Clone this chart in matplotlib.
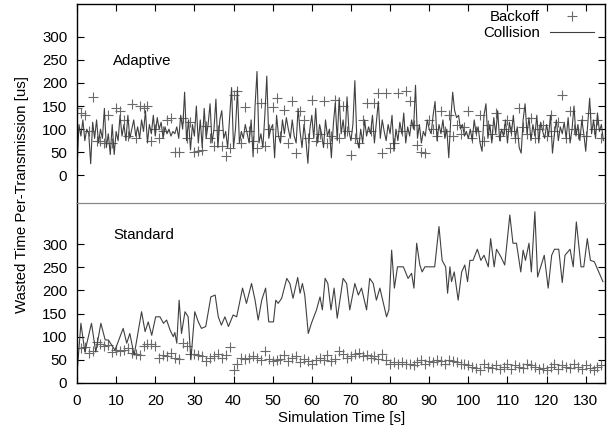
"""
Wasted time per transmission: Adaptive vs Standard (gnuplot-style two-panel chart)
"""
import numpy as np
import matplotlib
matplotlib.use('Agg')
import matplotlib.pyplot as plt

plt.rcParams['font.family'] = ['Liberation Sans', 'DejaVu Sans']
plt.rcParams['font.size'] = 10.8

# ============================================
# DATA
# ============================================
# Adaptive - collision line, sampled every 0.5 s
adp_col_t = np.arange(0, 135, 0.5)
adp_col_v = [
    15, 110, 85, 120, 75, 100, 90, 25, 115, 80,
    120, 70, 100, 80, 145, 60, 90, 45, 110, 45,
    95, 75, 130, 85, 110, 75, 130, 80, 100, 120,
    85, 105, 80, 120, 95, 140, 70, 110, 90, 130,
    85, 125, 100, 115, 80, 105, 90, 100, 85, 95,
    90, 105, 80, 130, 100, 180, 75, 120, 55, 110,
    85, 150, 70, 120, 60, 145, 80, 110, 155, 70,
    100, 165, 60, 120, 140, 80, 95, 60, 125, 190,
    60, 100, 185, 70, 95, 80, 110, 90, 70, 120,
    40, 150, 225, 70, 90, 60, 130, 215, 80, 100,
    110, 38, 130, 85, 70, 120, 90, 125, 100, 80,
    120, 85, 70, 145, 95, 60, 110, 75, 26, 100,
    130, 80, 145, 70, 110, 90, 60, 120, 85, 100,
    38, 110, 157, 75, 168, 90, 120, 80, 170, 95,
    75, 110, 205, 80, 60, 100, 70, 120, 85, 105,
    90, 130, 70, 115, 160, 80, 120, 95, 75, 110,
    90, 130, 52, 100, 75, 115, 90, 135, 70, 105,
    85, 120, 100, 195, 80, 110, 70, 95, 85, 120,
    100, 90, 130, 160, 75, 110, 90, 120, 80, 100,
    38, 120, 180, 140, 125, 130, 100, 110, 85, 95,
    80, 100, 75, 120, 90, 105, 70, 52, 130, 155,
    80, 110, 70, 125, 90, 140, 75, 100, 85, 120,
    70, 115, 90, 130, 80, 105, 60, 48, 120, 155,
    90, 125, 75, 110, 85, 130, 70, 115, 95, 80,
    110, 85, 130, 48, 90, 120, 75, 105, 90, 115,
    80, 125, 70, 100, 150, 85, 110, 75, 120, 90,
    52, 110, 167, 90, 120, 80, 135, 95, 110, 75,
]

# Adaptive - backoff points, every 1 s
adp_bo_t = np.arange(0, 135, 1)
adp_bo_v = [
    145, 135, 130, 95, 170, 75, 75, 70, 130, 70,
    145, 140, 120, 85, 155, 80, 150, 145, 150, 75,
    100, 80, 95, 120, 125, 50, 50, 125, 80, 115,
    50, 52, 55, 106, 80, 63, 99, 63, 41, 59,
    174, 182, 70, 149, 95, 75, 60, 156, 63, 100,
    149, 167, 85, 142, 70, 160, 48, 139, 120, 80,
    164, 75, 90, 160, 70, 85, 164, 81, 150, 95,
    45, 80, 70, 120, 156, 95, 156, 178, 48, 178,
    60, 70, 178, 95, 182, 160, 110, 65, 50, 48,
    120, 100, 85, 140, 95, 130, 85, 110, 90, 105,
    140, 80, 95, 130, 75, 110, 90, 135, 85, 100,
    120, 95, 80, 145, 105, 90, 125, 80, 100, 110,
    85, 130, 95, 115, 175, 80, 140, 100, 90, 120,
    85, 135, 100, 120, 80,
]

# Standard - collision line
std_col_t = [
    0, 1.0, 2.0, 3.7, 4.8, 6.1, 7.2, 8.0, 9.7, 11.8, 12.7, 13.5, 14.6, 16.5,
    17.4, 18.2, 19.1, 20.1, 21.2, 22.1, 22.9, 23.8, 24.6, 25.0, 25.5, 26.1,
    26.7, 27.6, 28.4, 29.1, 30.1, 31.0, 31.8, 32.9, 34.2, 35.3, 36.1, 36.9,
    37.8, 38.7, 39.9, 40.8, 42.3, 43.3, 44.6, 45.5, 46.3, 47.2, 48.2, 49.0,
    50.2, 50.8, 51.4, 52.3, 53.6, 54.4, 55.2, 56.4, 57.0, 57.6, 58.2, 59.1,
    59.9, 61.2, 62.1, 62.7, 63.4, 64.1, 64.9, 65.7, 66.5, 68.0, 68.9, 69.7,
    71.0, 71.9, 72.7, 74.0, 74.8, 75.7, 76.5, 77.4, 78.7, 79.1, 79.7, 80.4,
    81.1, 81.9, 83.4, 84.6, 85.5, 86.1, 86.8, 87.6, 88.2, 88.9, 91.4, 92.5,
    93.3, 94.2, 94.7, 95.3, 95.7, 96.4, 97.4, 98.3, 99.1, 99.8, 100.4, 101.2,
    102.3, 103.2, 104.0, 105.1, 105.7, 106.6, 107.2, 108.3, 109.3, 110.6,
    111.4, 112.3, 113.4, 114.0, 114.6, 115.5, 116.1, 117.0, 117.7, 118.5,
    119.4, 120.4, 121.3, 122.0, 123.1, 124.0, 124.7, 126.0, 126.8, 127.6,
    128.8, 129.5, 130.4, 131.2, 132.2, 134.4,
]
std_col_v = [
    20, 129, 67, 129, 67, 129, 93, 93, 71, 118, 86, 107, 60, 154,
    111, 132, 103, 143, 143, 129, 136, 114, 100, 109, 86, 179,
    107, 154, 143, 50, 154, 132, 118, 122, 186, 190, 143, 125,
    143, 122, 147, 143, 205, 172, 215, 179, 136, 179, 205, 132,
    132, 179, 172, 183, 226, 215, 183, 228, 194, 215, 190, 107,
    129, 158, 186, 158, 226, 215, 158, 205, 140, 226, 215, 158,
    215, 190, 205, 158, 226, 215, 179, 205, 158, 143, 158, 287,
    205, 251, 251, 226, 237, 205, 302, 255, 240, 251, 251, 338,
    265, 251, 194, 251, 219, 240, 179, 240, 255, 219, 265, 265,
    289, 265, 276, 251, 312, 251, 289, 273, 255, 363,
    302, 302, 240, 287, 265, 302, 240, 370, 229, 251,
    276, 205, 276, 289, 289, 217, 276, 289, 251, 348,
    251, 251, 312, 265, 262, 219,
]

# Standard - backoff points, every 1 s
std_bo_t = np.arange(0, 135, 1)
std_bo_v = [
    75, 75, 78, 65, 70, 88, 85, 80, 82, 68,
    72, 70, 72, 75, 65, 62, 60, 80, 85, 85,
    80, 55, 60, 58, 65, 55, 52, 86, 80, 62,
    62, 60, 58, 48, 55, 58, 62, 55, 60, 78,
    27, 42, 55, 52, 55, 58, 55, 50, 70, 52,
    48, 50, 52, 60, 48, 55, 58, 45, 52, 48,
    40, 50, 55, 50, 60, 48, 52, 70, 62, 55,
    58, 62, 65, 58, 60, 55, 58, 52, 62, 50,
    42, 45, 42, 45, 40, 42, 38, 45, 50, 42,
    48, 45, 50, 48, 42, 50, 48, 45, 40, 42,
    38, 35, 32, 28, 40, 35, 32, 38, 30, 35,
    40, 30, 38, 35, 32, 40, 38, 35, 30, 32,
    28, 35, 40, 30, 38, 35, 32, 40, 35, 30,
    38, 32, 28, 35, 38,
]

yticks = [0, 50, 100, 150, 200, 250, 300]
xticks = np.arange(0, 131, 10)

LINE_C = '#404040'
MARK_C = '#6a6a6a'

# ============================================
# FIGURE
# ============================================
fig = plt.figure(figsize=(6.16, 4.38), dpi=100)
ax_top = fig.add_axes([0.125, 0.5365, 0.857, 0.4543])
ax_bot = fig.add_axes([0.125, 0.1256, 0.857, 0.411], sharex=ax_top)

# Top panel (Adaptive)
ax_top.plot(adp_bo_t, adp_bo_v, '+', color=MARK_C, ms=7, mew=0.8, label='Backoff')
ax_top.plot(adp_col_t, adp_col_v, '-', color=LINE_C, lw=0.8, label='Collision')
ax_top.set_ylim(-60, 371)
ax_top.set_yticks(yticks)
ax_top.text(0.068, 0.714, 'Adaptive', transform=ax_top.transAxes, va='center', ha='left')
ax_top.spines['bottom'].set_visible(False)
ax_top.tick_params(axis='x', which='both', bottom=False, top=True, labelbottom=False,
                   direction='in', length=5)
ax_top.tick_params(axis='y', left=True, right=True, direction='in', length=5, pad=7)

leg = ax_top.legend(loc='upper right', frameon=False, markerfirst=False,
                    handlelength=2.9, handletextpad=0.7, labelspacing=0.15,
                    borderaxespad=0.0, bbox_to_anchor=(0.99, 1.0), fontsize=10.8)

# Bottom panel (Standard)
ax_bot.plot(std_bo_t, std_bo_v, '+', color=MARK_C, ms=7, mew=0.8)
ax_bot.plot(std_col_t, std_col_v, '-', color=LINE_C, lw=0.8)
ax_bot.set_ylim(0, 389)
ax_bot.set_yticks(yticks)
ax_bot.text(0.068, 0.822, 'Standard', transform=ax_bot.transAxes, va='center', ha='left')
ax_bot.spines['top'].set_color('#888888')
ax_bot.spines['top'].set_linewidth(0.9)
ax_bot.tick_params(axis='x', bottom=True, top=False, direction='in', length=5, pad=8)
ax_bot.tick_params(axis='y', left=True, right=True, direction='in', length=5, pad=7)

ax_bot.set_xlim(0, 134.9)
ax_bot.set_xticks(xticks)

for ax in (ax_top, ax_bot):
    for side in ('left', 'right'):
        ax.spines[side].set_linewidth(1.0)
ax_top.spines['top'].set_linewidth(1.0)
ax_bot.spines['bottom'].set_linewidth(1.0)

fig.text(0.036, 0.555, 'Wasted Time Per-Transmission [us]', rotation=90,
         ha='center', va='center')
fig.text(0.554, 0.046, 'Simulation Time [s]', ha='center', va='center')

fig.savefig('out.png', dpi=100, facecolor='white')
